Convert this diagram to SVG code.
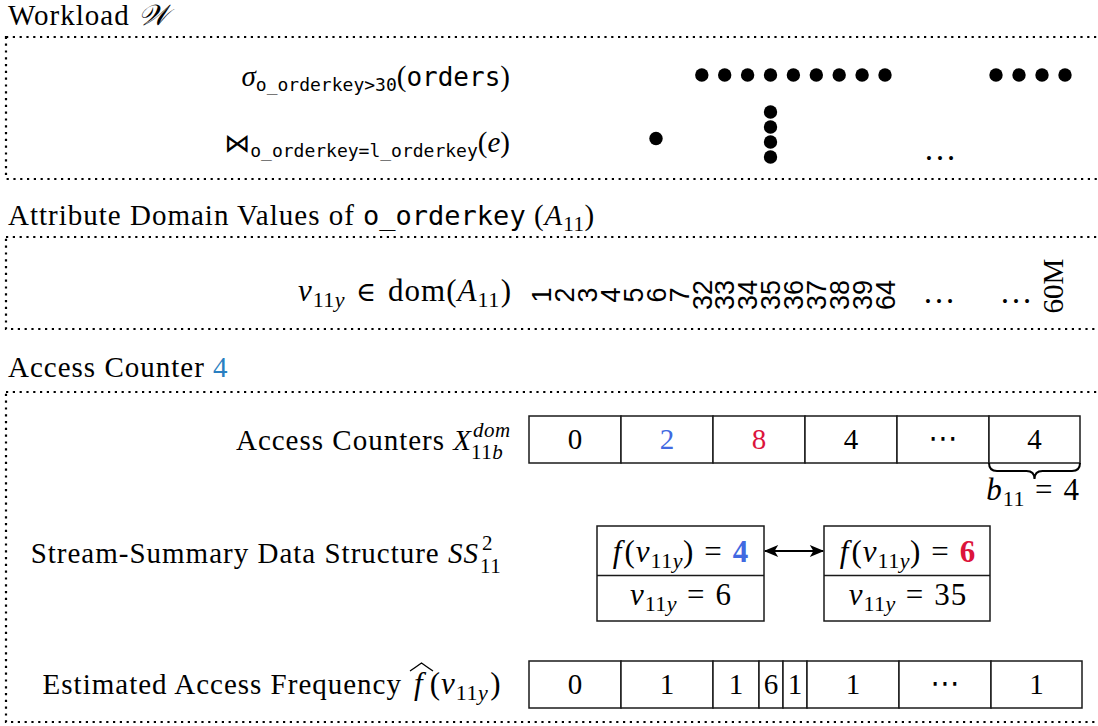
<svg xmlns="http://www.w3.org/2000/svg" width="1098" height="726" viewBox="0 0 1098 726">
  <style>
    .lbl { font-family: "Liberation Serif", "DejaVu Serif", serif; font-size: 29px; fill: #000; }
    .sp { letter-spacing: 1px; }
    .it { font-style: italic; }
    .sub { font-size: 21px; letter-spacing: 0.5px; }
    .m { font-size: 31px; letter-spacing: 1px; }
    .ms { font-size: 22px; letter-spacing: 0.5px; }
    .mono { font-family: "DejaVu Sans Mono", "Liberation Mono", monospace; letter-spacing: 0; }
    .sym { font-family: "DejaVu Sans", "DejaVu Serif", sans-serif; }
    .elem { font-family: "DejaVu Serif", "DejaVu Sans", serif; font-size: 27px; }
    .cal { font-family: "DejaVu Serif", "DejaVu Sans", serif; font-style: italic; }
    .rot { font-family: "Liberation Sans", Arial, sans-serif; font-size: 27px; text-anchor: middle; fill: #000; }
    .frame { fill: none; stroke: #000; stroke-width: 2.2; stroke-dasharray: 2.2 4.6; }
    .cell { fill: #fff; stroke: #1a1a1a; stroke-width: 1.5; }
    .num { text-anchor: middle; }
    .dots { font-size: 33px; text-anchor: middle; }
    .dot { fill: #000; }
    .blue { fill: #4169e1; }
    .red { fill: #dc143c; }
    .ref { fill: #2a7fc1; }
    .bold { font-weight: bold; }
    .brace { fill: none; stroke: #000; stroke-width: 2; }
    .link { fill: none; stroke: #000; stroke-width: 2; }
    .rule { stroke: #1a1a1a; stroke-width: 1.5; }
  </style>
  <defs>
    <marker id="arrowhead" viewBox="0 0 12 10" refX="11" refY="5" markerWidth="16" markerHeight="12" markerUnits="userSpaceOnUse" orient="auto-start-reverse">
      <path d="M0,0 L12,5 L0,10 L3,5 z" fill="#000"/>
    </marker>
  </defs>
  <rect width="1098" height="726" fill="#fff"/>

  <!-- Workload -->
  <g id="workload">
    <text class="lbl sp" x="8" y="25">Workload <tspan class="cal" letter-spacing="0">𝒲</tspan></text>
    <rect class="frame" x="6" y="37" width="1100" height="142"/>
    <text class="lbl" x="510" y="86" text-anchor="end"><tspan class="it">σ</tspan><tspan class="mono" font-size="18" dy="5">o_orderkey&gt;30</tspan><tspan dy="-5">(</tspan><tspan class="mono" font-size="26">orders</tspan>)</text>
    <text class="lbl" x="510" y="152" text-anchor="end"><tspan class="sym" font-size="26">⋈</tspan><tspan class="mono" font-size="18" dy="5">o_orderkey=l_orderkey</tspan><tspan dy="-5">(</tspan><tspan class="it">e</tspan>)</text>
    <g id="selection-hits">
      <circle class="dot" cx="701.8" cy="75" r="6.7"/>
      <circle class="dot" cx="724.7" cy="75" r="6.7"/>
      <circle class="dot" cx="747.6" cy="75" r="6.7"/>
      <circle class="dot" cx="770.5" cy="75" r="6.7"/>
      <circle class="dot" cx="793.4" cy="75" r="6.7"/>
      <circle class="dot" cx="816.3" cy="75" r="6.7"/>
      <circle class="dot" cx="839.2" cy="75" r="6.7"/>
      <circle class="dot" cx="862.1" cy="75" r="6.7"/>
      <circle class="dot" cx="885" cy="75" r="6.7"/>
      <circle class="dot" cx="996" cy="75" r="6.7"/>
      <circle class="dot" cx="1019" cy="75" r="6.7"/>
      <circle class="dot" cx="1042" cy="75" r="6.7"/>
      <circle class="dot" cx="1065" cy="75" r="6.7"/>
    </g>
    <g id="join-hits">
      <circle class="dot" cx="656" cy="138.5" r="6.7"/>
      <circle class="dot" cx="770.5" cy="112" r="6.7"/>
      <circle class="dot" cx="770.5" cy="127" r="6.7"/>
      <circle class="dot" cx="770.5" cy="142" r="6.7"/>
      <circle class="dot" cx="770.5" cy="157" r="6.7"/>
      <text class="lbl dots" x="940" y="160">…</text>
    </g>
  </g>

  <!-- Attribute domain -->
  <g id="domain">
    <text class="lbl sp" x="8" y="225">Attribute Domain Values of <tspan class="mono" font-size="27">o_orderkey</tspan> (<tspan class="it">A</tspan><tspan class="sub" dy="6">11</tspan><tspan dy="-6">)</tspan></text>
    <rect class="frame" x="6" y="237" width="1100" height="92"/>
    <text class="lbl m" x="512" y="301" text-anchor="end"><tspan class="it">v</tspan><tspan class="ms" dy="6">11<tspan class="it">y</tspan></tspan><tspan class="elem" dy="-6" dx="11">∈</tspan><tspan dx="11">dom(</tspan><tspan class="it">A</tspan><tspan class="ms" dy="6">11</tspan><tspan dy="-6" dx="1">)</tspan></text>
    <g id="domain-values">
      <text class="rot" transform="translate(551.2 295) rotate(-90)">1</text>
      <text class="rot" transform="translate(574.1 295) rotate(-90)">2</text>
      <text class="rot" transform="translate(597 295) rotate(-90)">3</text>
      <text class="rot" transform="translate(619.9 295) rotate(-90)">4</text>
      <text class="rot" transform="translate(642.8 295) rotate(-90)">5</text>
      <text class="rot" transform="translate(665.7 295) rotate(-90)">6</text>
      <text class="rot" transform="translate(688.6 295) rotate(-90)">7</text>
      <text class="rot" transform="translate(711.5 295) rotate(-90)">32</text>
      <text class="rot" transform="translate(734.4 295) rotate(-90)">33</text>
      <text class="rot" transform="translate(757.3 295) rotate(-90)">34</text>
      <text class="rot" transform="translate(780.2 295) rotate(-90)">35</text>
      <text class="rot" transform="translate(803.1 295) rotate(-90)">36</text>
      <text class="rot" transform="translate(826 295) rotate(-90)">37</text>
      <text class="rot" transform="translate(848.9 295) rotate(-90)">38</text>
      <text class="rot" transform="translate(871.8 295) rotate(-90)">39</text>
      <text class="rot" transform="translate(894.7 295) rotate(-90)">64</text>
      <text class="lbl dots" x="939" y="303">…</text>
      <text class="lbl dots" x="1016" y="303">…</text>
      <text class="lbl num" transform="translate(1062.6 286) rotate(-90)">60M</text>
    </g>
  </g>

  <!-- Access counter section -->
  <g id="access-counter">
    <text class="lbl sp" x="8" y="377">Access Counter <tspan class="ref">4</tspan></text>
    <rect class="frame" x="6" y="392" width="1100" height="330"/>
  </g>

  <g id="counters">
    <text class="lbl sp" x="472" y="450" text-anchor="end" letter-spacing="1.3">Access Counters <tspan class="it">X</tspan></text>
    <text class="lbl sub it" x="473" y="437">dom</text>
    <text class="lbl sub" x="471" y="459">11<tspan class="it">b</tspan></text>
    <rect class="cell" x="529" y="416" width="92" height="47"/>
    <rect class="cell" x="621" y="416" width="92" height="47"/>
    <rect class="cell" x="713" y="416" width="92" height="47"/>
    <rect class="cell" x="805" y="416" width="92" height="47"/>
    <rect class="cell" x="897" y="416" width="92" height="47"/>
    <rect class="cell" x="989" y="416" width="91" height="47"/>
    <text class="lbl num" x="575" y="449">0</text>
    <text class="lbl num blue" x="667" y="449">2</text>
    <text class="lbl num red" x="759" y="449">8</text>
    <text class="lbl num" x="851" y="449">4</text>
    <text class="lbl num sym" x="943" y="448" font-size="27">⋯</text>
    <text class="lbl num" x="1034.5" y="449">4</text>
    <path class="brace" d="M989,463 Q989,471 997,471 L1026.5,471 Q1034.5,471 1034.5,479 Q1034.5,471 1042.5,471 L1072,471 Q1080,471 1080,463"/>
    <text class="lbl m" x="1080" y="500" text-anchor="end"><tspan class="it">b</tspan><tspan class="ms" dy="6">11</tspan><tspan dy="-6" dx="10">=</tspan><tspan dx="10">4</tspan></text>
  </g>

  <g id="stream-summary">
    <text class="lbl sp" x="479" y="563" text-anchor="end" letter-spacing="1.3">Stream-Summary Data Structure <tspan class="it">SS</tspan></text>
    <text class="lbl sub" x="482" y="550">2</text>
    <text class="lbl sub" x="480" y="573">11</text>
  </g>

  <g id="bucket-4">
    <rect class="cell" x="597" y="526" width="167" height="95"/>
    <line class="rule" x1="597" y1="575.5" x2="764" y2="575.5"/>
    <text class="lbl m num" x="681" y="562"><tspan class="it">f</tspan><tspan dx="2">(</tspan><tspan class="it">v</tspan><tspan class="ms" dy="6">11<tspan class="it">y</tspan></tspan><tspan dy="-6">)</tspan><tspan dx="10">=</tspan><tspan dx="10" class="blue bold">4</tspan></text>
    <text class="lbl m num" x="681" y="605"><tspan class="it">v</tspan><tspan class="ms" dy="6">11<tspan class="it">y</tspan></tspan><tspan dy="-6" dx="10">=</tspan><tspan dx="10">6</tspan></text>
  </g>

  <g id="bucket-6">
    <rect class="cell" x="824" y="526" width="166" height="95"/>
    <line class="rule" x1="824" y1="575.5" x2="990" y2="575.5"/>
    <text class="lbl m num" x="908" y="562"><tspan class="it">f</tspan><tspan dx="2">(</tspan><tspan class="it">v</tspan><tspan class="ms" dy="6">11<tspan class="it">y</tspan></tspan><tspan dy="-6">)</tspan><tspan dx="10">=</tspan><tspan dx="10" class="red bold">6</tspan></text>
    <text class="lbl m num" x="908" y="605"><tspan class="it">v</tspan><tspan class="ms" dy="6">11<tspan class="it">y</tspan></tspan><tspan dy="-6" dx="10">=</tspan><tspan dx="10">35</tspan></text>
  </g>

  <g id="connectors">
    <line class="link" x1="765" y1="551" x2="823" y2="551" marker-start="url(#arrowhead)" marker-end="url(#arrowhead)"/>
  </g>

  <g id="estimated">
    <text class="lbl sp" x="402" y="694" text-anchor="end">Estimated Access Frequency</text>
    <path d="M410,671 Q416,667 421.5,663 Q427,667 433,671" fill="none" stroke="#000" stroke-width="1.3"/>
    <text class="lbl m" x="414" y="694"><tspan class="it">f</tspan><tspan dx="6">(</tspan><tspan class="it">v</tspan><tspan class="ms" dy="6">11<tspan class="it">y</tspan></tspan><tspan dy="-6" dx="2">)</tspan></text>
    <rect class="cell" x="529" y="661" width="92" height="47"/>
    <rect class="cell" x="621" y="661" width="92" height="47"/>
    <rect class="cell" x="713" y="661" width="46" height="47"/>
    <rect class="cell" x="759" y="661" width="24" height="47"/>
    <rect class="cell" x="783" y="661" width="24" height="47"/>
    <rect class="cell" x="807" y="661" width="92" height="47"/>
    <rect class="cell" x="899" y="661" width="92" height="47"/>
    <rect class="cell" x="991" y="661" width="91" height="47"/>
    <text class="lbl num" x="575" y="694">0</text>
    <text class="lbl num" x="667" y="694">1</text>
    <text class="lbl num" x="736" y="694">1</text>
    <text class="lbl num" x="771" y="694">6</text>
    <text class="lbl num" x="795" y="694">1</text>
    <text class="lbl num" x="853" y="694">1</text>
    <text class="lbl num sym" x="945" y="693" font-size="27">⋯</text>
    <text class="lbl num" x="1036.5" y="694">1</text>
  </g>
</svg>
